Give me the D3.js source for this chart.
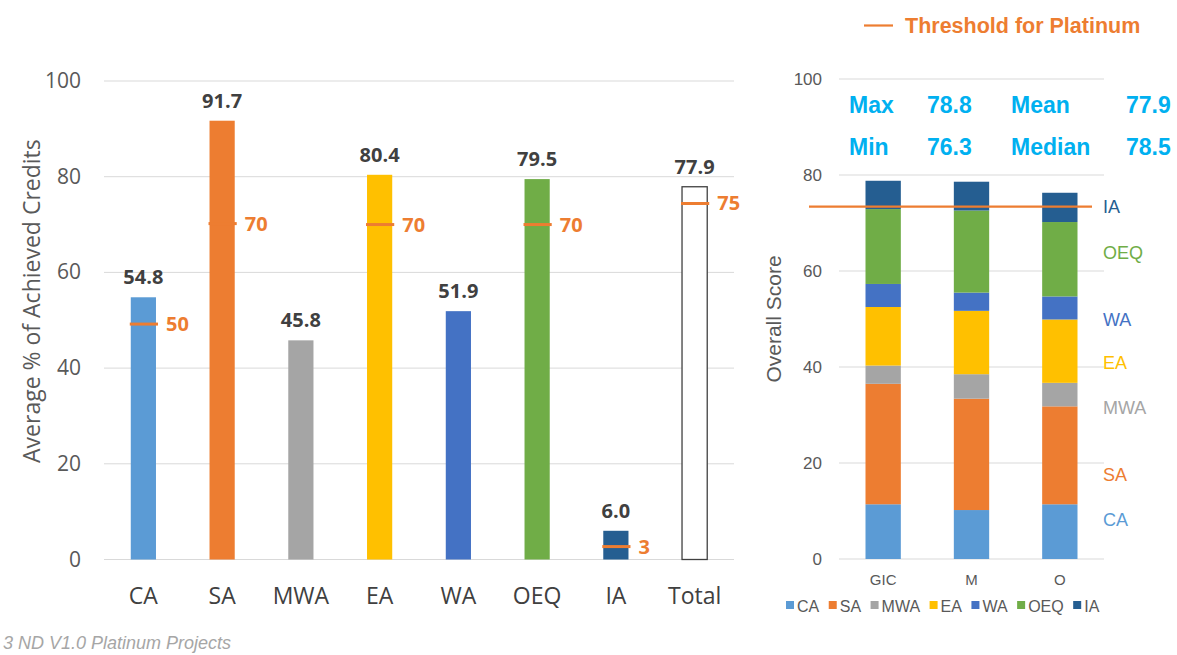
<!DOCTYPE html>
<html>
  <head>
    <meta charset="utf-8">
    <title>Platinum Projects</title>
    <script type="text/javascript" src="https://cdn.jsdelivr.net/npm/d3@7"></script>
    <style type='text/css'>
      body { margin: 0; background: #fff; }
      svg { display: block; }
    </style>
  </head>
  <body>
    <script type="text/javascript">
      var w = 1177;
      var h = 655;

      // left chart data
      var categories = ['CA', 'SA', 'MWA', 'EA', 'WA', 'OEQ', 'IA', 'Total'];
      var achieved = [54.8, 91.7, 45.8, 80.4, 51.9, 79.5, 6.0, 77.9];
      var thresholdAt = [49.2, 70.2, null, 70.0, null, 70.0, 2.7, 74.4];
      var thresholdLabels = ['50', '70', null, '70', null, '70', '3', '75'];
      var leftTicks = [0, 20, 40, 60, 80, 100];

      // right chart data
      var projects = ['GIC', 'M', 'O'];
      var series = ['CA', 'SA', 'MWA', 'EA', 'WA', 'OEQ', 'IA'];
      var scoreCA = [11.4, 10.2, 11.4];
      var scoreSA = [25.1, 23.2, 20.4];
      var scoreMWA = [3.8, 5.1, 4.9];
      var scoreEA = [12.2, 13.2, 13.2];
      var scoreWA = [4.8, 3.8, 4.8];
      var scoreOEQ = [15.6, 17.1, 15.5];
      var scoreIA = [5.9, 6.0, 6.1];
      var platinumLine = 73.4;
      var rightTicks = [0, 20, 40, 60, 80, 100];
      var statNames = ['Max', 'Min', 'Mean', 'Median'];
      var statValues = ['78.8', '76.3', '77.9', '78.5'];

      var colors = {
        CA: '#5B9BD5', SA: '#ED7D31', MWA: '#A5A5A5', EA: '#FFC000',
        WA: '#4472C4', OEQ: '#70AD47', IA: '#255E91', Total: '#ffffff'
      };
      var orange = '#ED7D31';

      var svg = d3.select('body')
                  .append('svg')
                  .attr('width', w)
                  .attr('height', h);

      // ---------- left chart ----------
      var lf = '"Open Sans", sans-serif';
      var x1 = d3.scaleBand().domain(categories).range([104, 734]).paddingInner(0.68).paddingOuter(0.34);
      var y1 = d3.scaleLinear().domain([0, 100]).range([559.5, 81]);

      var left = svg.append('g');

      left.selectAll('line.grid')
        .data(leftTicks)
        .enter()
        .append('line')
        .attr('x1', 104).attr('x2', 734)
        .attr('y1', function(d) { return y1(d); })
        .attr('y2', function(d) { return y1(d); })
        .attr('stroke', '#d9d9d9')
        .attr('stroke-width', 1);

      left.selectAll('text.ytick')
        .data(leftTicks)
        .enter()
        .append('text')
        .text(function(d) { return d; })
        .attr('x', 81)
        .attr('y', function(d) { return y1(d) + 7; })
        .attr('text-anchor', 'end')
        .attr('font-family', lf)
        .attr('font-size', '21px')
        .attr('fill', '#595959');

      left.append('text')
        .text('Average % of Achieved Credits')
        .attr('transform', 'translate(40,' + y1(54) + ') rotate(-90)')
        .attr('text-anchor', 'middle')
        .attr('font-family', lf)
        .attr('font-size', '23px')
        .attr('fill', '#595959');

      left.selectAll('rect.bar')
        .data(achieved)
        .enter()
        .append('rect')
        .attr('x', function(d, i) { return x1(categories[i]); })
        .attr('y', function(d) { return y1(d); })
        .attr('width', x1.bandwidth())
        .attr('height', function(d) { return y1(0) - y1(d); })
        .attr('fill', function(d, i) { return colors[categories[i]]; })
        .attr('stroke', function(d, i) { return categories[i] === 'Total' ? '#404040' : 'none'; })
        .attr('stroke-width', 1.3);

      left.selectAll('text.val')
        .data(achieved)
        .enter()
        .append('text')
        .text(function(d) { return d.toFixed(1); })
        .attr('x', function(d, i) { return x1(categories[i]) + x1.bandwidth() / 2; })
        .attr('y', function(d) { return y1(d) - 13; })
        .attr('text-anchor', 'middle')
        .attr('font-family', lf)
        .attr('font-weight', 'bold')
        .attr('font-size', '20px')
        .attr('fill', '#404040');

      var marks = thresholdAt.map(function(d, i) { return { v: d, label: thresholdLabels[i], c: categories[i] }; })
                             .filter(function(d) { return d.v !== null; });

      left.selectAll('line.mark')
        .data(marks)
        .enter()
        .append('line')
        .attr('x1', function(d) { return x1(d.c) - 1; })
        .attr('x2', function(d) { return x1(d.c) + x1.bandwidth() + 2; })
        .attr('y1', function(d) { return y1(d.v); })
        .attr('y2', function(d) { return y1(d.v); })
        .attr('stroke', orange)
        .attr('stroke-width', 3);

      left.selectAll('text.mark')
        .data(marks)
        .enter()
        .append('text')
        .text(function(d) { return d.label; })
        .attr('x', function(d) { return x1(d.c) + x1.bandwidth() + 10; })
        .attr('y', function(d) { return y1(d.v) + 7; })
        .attr('font-family', lf)
        .attr('font-weight', 'bold')
        .attr('font-size', '20px')
        .attr('fill', orange);

      left.selectAll('text.cat')
        .data(categories)
        .enter()
        .append('text')
        .text(function(d) { return d; })
        .attr('x', function(d) { return x1(d) + x1.bandwidth() / 2; })
        .attr('y', 604)
        .attr('text-anchor', 'middle')
        .attr('font-family', lf)
        .attr('font-size', '23px')
        .attr('fill', '#404040');

      // ---------- right chart ----------
      var rf = '"Liberation Sans", Arial, sans-serif';
      var x2 = d3.scaleBand().domain(projects).range([839, 1104]).paddingInner(0.6).paddingOuter(0.3);
      var y2 = d3.scaleLinear().domain([0, 100]).range([559, 79]);

      var right = svg.append('g');

      right.selectAll('line.grid')
        .data(rightTicks)
        .enter()
        .append('line')
        .attr('x1', 839).attr('x2', 1104)
        .attr('y1', function(d) { return y2(d); })
        .attr('y2', function(d) { return y2(d); })
        .attr('stroke', '#d9d9d9')
        .attr('stroke-width', 1);

      right.selectAll('text.ytick')
        .data(rightTicks)
        .enter()
        .append('text')
        .text(function(d) { return d; })
        .attr('x', 822)
        .attr('y', function(d) { return y2(d) + 6; })
        .attr('text-anchor', 'end')
        .attr('font-family', rf)
        .attr('font-size', '17px')
        .attr('fill', '#595959');

      right.append('text')
        .text('Overall Score')
        .attr('transform', 'translate(781,' + y2(50) + ') rotate(-90)')
        .attr('text-anchor', 'middle')
        .attr('font-family', rf)
        .attr('font-size', '21px')
        .attr('fill', '#595959');

      var scoreTable = projects.map(function(p, i) {
        return { project: p, CA: scoreCA[i], SA: scoreSA[i], MWA: scoreMWA[i], EA: scoreEA[i],
                 WA: scoreWA[i], OEQ: scoreOEQ[i], IA: scoreIA[i] };
      });
      var stacked = d3.stack().keys(series)(scoreTable);

      right.selectAll('g.layer')
        .data(stacked)
        .enter()
        .append('g')
        .attr('fill', function(d) { return colors[d.key]; })
        .selectAll('rect')
        .data(function(d) { return d; })
        .enter()
        .append('rect')
        .attr('x', function(d) { return x2(d.data.project); })
        .attr('y', function(d) { return y2(d[1]); })
        .attr('width', x2.bandwidth())
        .attr('height', function(d) { return y2(d[0]) - y2(d[1]); });

      right.append('line')
        .attr('x1', 809).attr('x2', 1092)
        .attr('y1', y2(platinumLine)).attr('y2', y2(platinumLine))
        .attr('stroke', orange)
        .attr('stroke-width', 2.2);

      // series names beside the bars
      var sideLabelY = [520, 475, 408, 363, 320, 253, 207];
      right.selectAll('text.side')
        .data(series)
        .enter()
        .append('text')
        .text(function(d) { return d; })
        .attr('x', 1103)
        .attr('y', function(d, i) { return sideLabelY[i] + 6; })
        .attr('font-family', rf)
        .attr('font-size', '18px')
        .attr('fill', function(d) { return colors[d]; });

      right.selectAll('text.proj')
        .data(projects)
        .enter()
        .append('text')
        .text(function(d) { return d; })
        .attr('x', function(d) { return x2(d) + x2.bandwidth() / 2; })
        .attr('y', 585)
        .attr('text-anchor', 'middle')
        .attr('font-family', rf)
        .attr('font-size', '15px')
        .attr('fill', '#595959');

      // bottom legend
      var lx = 786;
      series.forEach(function(s) {
        right.append('rect')
          .attr('x', lx).attr('y', 601)
          .attr('width', 8).attr('height', 8)
          .attr('fill', colors[s]);
        var t = right.append('text')
          .text(s)
          .attr('x', lx + 11)
          .attr('y', 612)
          .attr('font-family', rf)
          .attr('font-size', '16px')
          .attr('fill', '#595959');
        lx += 11 + t.node().getComputedTextLength() + 9.5;
      });

      // stats block
      var statX = [849, 927, 1011, 1126];
      var statRows = [113, 155];
      [[0, 0], [1, 0], [0, 1], [1, 1]].forEach(function(p, k) {
        right.append('text')
          .text(statNames[k])
          .attr('x', statX[p[1] * 2])
          .attr('y', statRows[p[0]])
          .attr('font-family', rf)
          .attr('font-weight', 'bold')
          .attr('font-size', '23px')
          .attr('fill', '#00B0F0');
        right.append('text')
          .text(statValues[k])
          .attr('x', statX[p[1] * 2 + 1])
          .attr('y', statRows[p[0]])
          .attr('font-family', rf)
          .attr('font-weight', 'bold')
          .attr('font-size', '23px')
          .attr('fill', '#00B0F0');
      });

      // threshold legend
      svg.append('line')
        .attr('x1', 864).attr('x2', 893)
        .attr('y1', 25.5).attr('y2', 25.5)
        .attr('stroke', orange)
        .attr('stroke-width', 2.2);
      svg.append('text')
        .text('Threshold for Platinum')
        .attr('x', 905)
        .attr('y', 33)
        .attr('font-family', rf)
        .attr('font-weight', 'bold')
        .attr('font-size', '21.5px')
        .attr('fill', orange);

      svg.append('text')
        .text('3 ND V1.0 Platinum Projects')
        .attr('x', 3)
        .attr('y', 649)
        .attr('font-family', rf)
        .attr('font-style', 'italic')
        .attr('font-size', '18px')
        .attr('fill', '#A6A6A6');
    </script>
  </body>
</html>
